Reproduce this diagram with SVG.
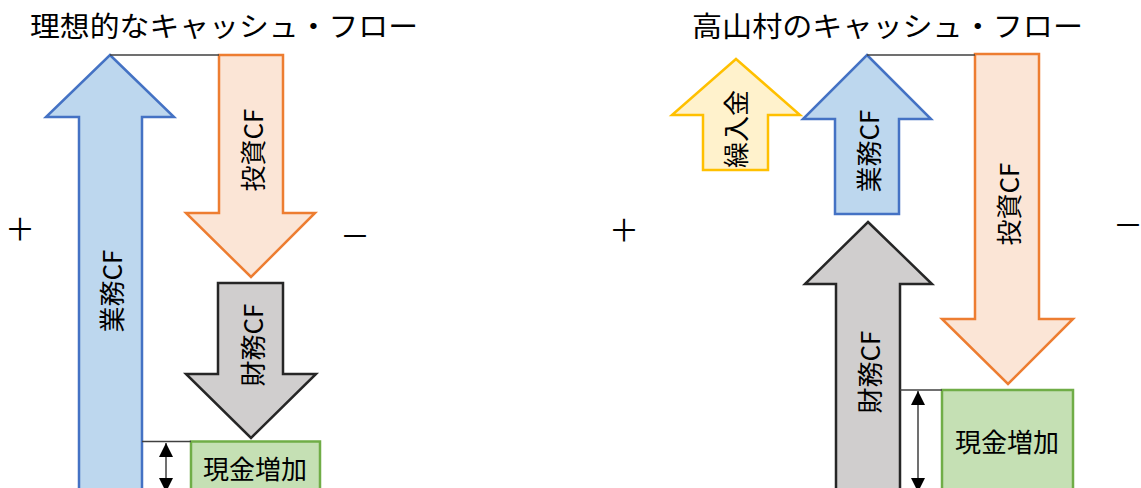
<svg xmlns="http://www.w3.org/2000/svg" width="1141" height="488" viewBox="0 0 1141 488">
  <defs>
    <marker id="ah" viewBox="0 0 14 14" refX="14" refY="7" markerWidth="14" markerHeight="14" markerUnits="userSpaceOnUse" orient="auto-start-reverse">
      <path d="M0,0 L14,7 L0,14 z" fill="#000"/>
    </marker>
  </defs>
  <style>
    text { font-family: "Noto Sans CJK JP", "Noto Sans", sans-serif; fill: #000; }
    .title { font-size: 28px; }
    .lbl { font-size: 26px; text-anchor: middle; dominant-baseline: central; }
    .sign { font-size: 30px; text-anchor: middle; dominant-baseline: central; }
    .blue { fill: #BDD7EE; stroke: #4472C4; stroke-width: 2.5; stroke-linejoin: miter; }
    .orange { fill: #FBE5D6; stroke: #ED7D31; stroke-width: 2.5; }
    .gray { fill: #D0CECE; stroke: #262626; stroke-width: 2.5; }
    .yellow { fill: #FFF2CC; stroke: #FFC000; stroke-width: 2.5; }
    .green { fill: #C5E0B4; stroke: #70AD47; stroke-width: 2.5; }
    .conn { stroke: #404040; stroke-width: 1.5; fill: none; }
    .dim { stroke: #404040; stroke-width: 1.5; fill: none; marker-start: url(#ah); marker-end: url(#ah); }
  </style>
  <rect width="1141" height="488" fill="#fff"/>

  <!-- Titles and signs -->
  <text class="title" x="30" y="37" textLength="388" lengthAdjust="spacingAndGlyphs">理想的なキャッシュ・フロー</text>
  <text class="title" x="692" y="37" textLength="391" lengthAdjust="spacingAndGlyphs">高山村のキャッシュ・フロー</text>
  <text class="sign" x="20" y="227">＋</text>
  <text class="sign" x="355" y="234">－</text>
  <text class="sign" x="624" y="228">＋</text>
  <text class="sign" x="1128" y="223">－</text>

  <!-- Left diagram -->
  <g id="left-operating">
    <polygon class="blue" points="110,55 174,117 142,117 142,500 79,500 79,117 46,117"/>
    <text class="lbl" transform="translate(110,291) rotate(-90)">業務CF</text>
  </g>
  <g id="left-investing">
    <polygon class="orange" points="219,55 283,55 283,213 315,213 251,277 186,213 219,213"/>
    <text class="lbl" transform="translate(251,150) rotate(-90)">投資CF</text>
  </g>
  <g id="left-financing">
    <polygon class="gray" points="218,283 283,283 283,374 316,374 251,438 186,374 218,374"/>
    <text class="lbl" transform="translate(251,345) rotate(-90)">財務CF</text>
  </g>
  <g id="left-cash">
    <rect class="green" x="191" y="441.5" width="129" height="60"/>
    <text class="lbl" x="255" y="467">現金増加</text>
  </g>

  <!-- Right diagram -->
  <g id="right-transfer">
    <polygon class="yellow" points="736,59 800,115 768,115 768,170 703,170 703,115 672,115"/>
    <text class="lbl" transform="translate(734,129) rotate(-90)">繰入金</text>
  </g>
  <g id="right-operating">
    <polygon class="blue" points="867,55 931,119 899,119 899,214 835,214 835,119 803,119"/>
    <text class="lbl" transform="translate(867,151) rotate(-90)">業務CF</text>
  </g>
  <g id="right-investing">
    <polygon class="orange" points="975,54 1039,54 1039,319 1073,319 1008,384 942,319 975,319"/>
    <text class="lbl" transform="translate(1007,204) rotate(-90)">投資CF</text>
  </g>
  <g id="right-financing">
    <polygon class="gray" points="868,222 932,284 900,284 900,500 836,500 836,284 805,284"/>
    <text class="lbl" transform="translate(868,372) rotate(-90)">財務CF</text>
  </g>
  <g id="right-cash">
    <rect class="green" x="942" y="390" width="131" height="110"/>
    <text class="lbl" x="1007" y="440">現金増加</text>
  </g>

  <!-- Connectors -->
  <g id="connectors">
    <line class="conn" x1="110" y1="55" x2="219" y2="55"/>
    <line class="conn" x1="867" y1="55" x2="975" y2="55"/>
    <line class="conn" x1="142" y1="441.5" x2="191" y2="441.5"/>
    <line class="conn" x1="900" y1="390" x2="942" y2="390"/>
    <line class="dim" x1="166" y1="443" x2="166" y2="492"/>
    <line class="dim" x1="918" y1="391" x2="918" y2="492"/>
  </g>
</svg>
